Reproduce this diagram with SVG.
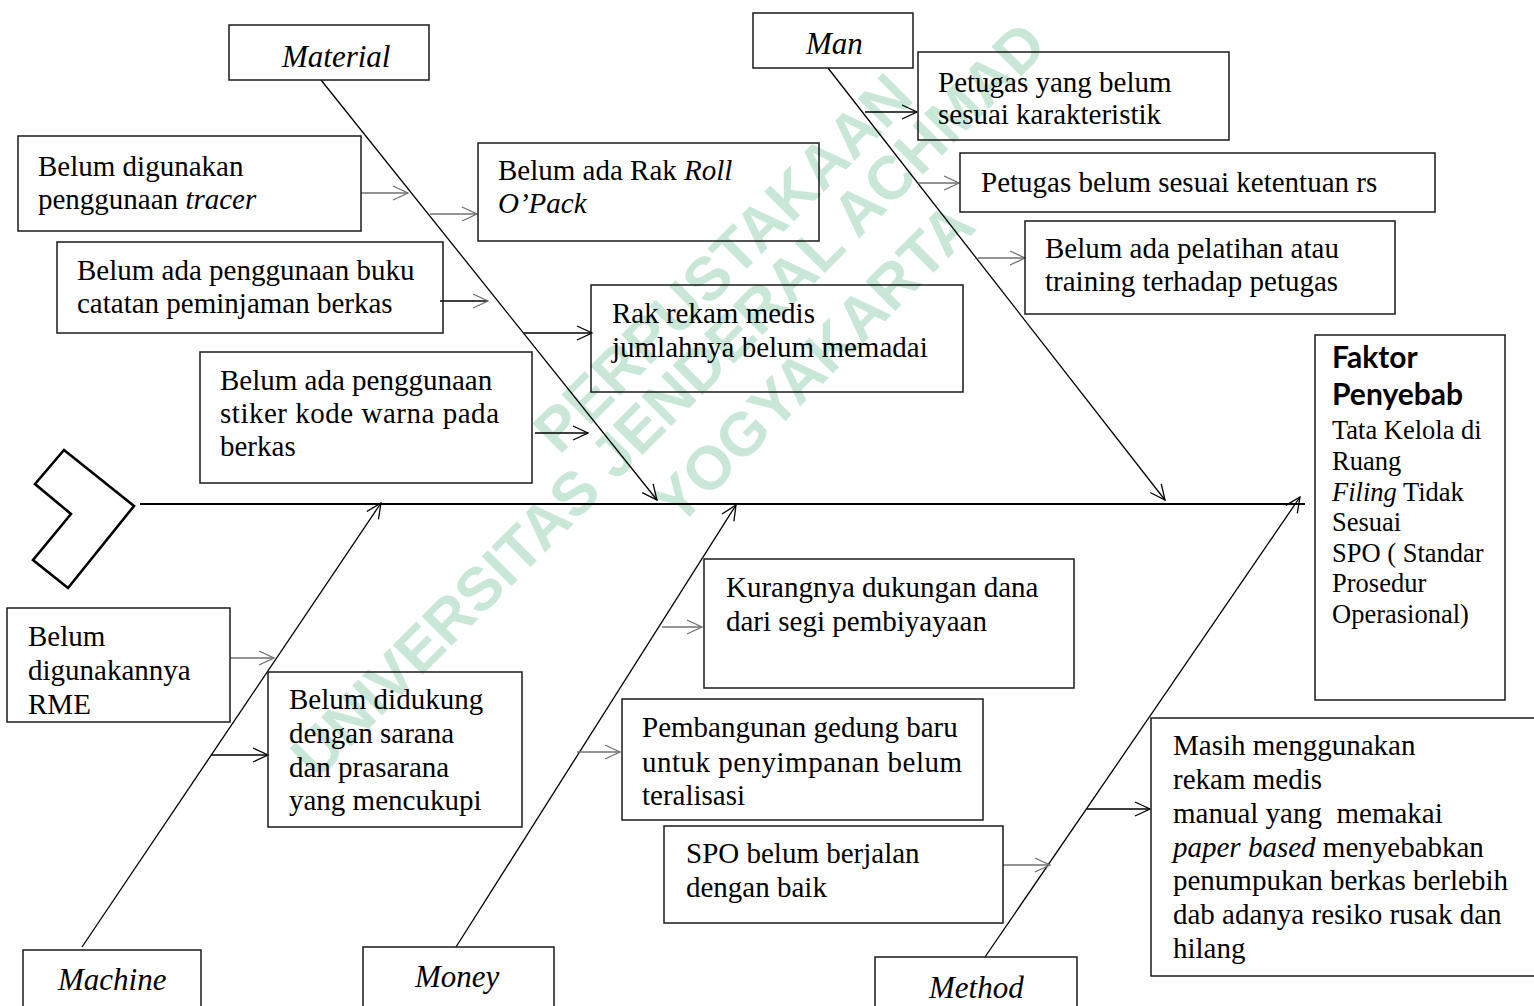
<svg xmlns="http://www.w3.org/2000/svg" width="1534" height="1006" viewBox="0 0 1534 1006">
<style>
.box{fill:none;stroke:#1a1a1a;stroke-width:1.5}
.t{font-family:"Liberation Serif","Times New Roman",serif;font-size:29px;fill:#000}
.lbl{font-family:"Liberation Serif","Times New Roman",serif;font-size:31px;font-style:italic;fill:#000}
.fs{font-family:"Liberation Serif","Times New Roman",serif;font-size:26.5px;fill:#000}
.fb{font-family:Lato,"Liberation Sans",sans-serif;font-size:30px;font-weight:bold;fill:#000}
.bone{stroke:#000;stroke-width:1.3;fill:none}
.ab{stroke:#000;stroke-width:1.5;fill:none}
.ag{stroke:#707070;stroke-width:1.6;fill:none}
.wm{font-family:"Liberation Sans",Arial,sans-serif;font-weight:bold;font-size:61px;fill:#c8e7d6;text-anchor:middle}
</style>
<defs>
<marker id="hb" markerUnits="userSpaceOnUse" markerWidth="18" markerHeight="18" refX="16" refY="8" orient="auto"><path d="M1,1 L16,8 L1,15" fill="none" stroke="#000" stroke-width="1.3"/></marker>
<marker id="hg" markerUnits="userSpaceOnUse" markerWidth="18" markerHeight="18" refX="16" refY="8" orient="auto"><path d="M1,1 L16,8 L1,15" fill="none" stroke="#707070" stroke-width="1.3"/></marker>
</defs>
<rect width="1534" height="1006" fill="#fff"/>
<g id="watermark" transform="rotate(-45)">
<text class="wm" x="325" y="718">PERPUSTAKAAN</text>
<text class="wm" x="190" y="776" font-size="63">UNIVERSITAS JENDERAL ACHMAD</text>
<text class="wm" x="318" y="853">YOGYAKARTA</text>
</g>
<g id="connectors">
<line x1="140" y1="504" x2="1305" y2="504" stroke="#000" stroke-width="2.2"/>
<line class="bone" x1="321" y1="80" x2="657" y2="500" marker-end="url(#hb)"/>
<line class="bone" x1="828" y1="68" x2="1165" y2="500" marker-end="url(#hb)"/>
<line class="bone" x1="82" y1="947" x2="381" y2="503" marker-end="url(#hb)"/>
<line class="bone" x1="456" y1="947" x2="736" y2="505" marker-end="url(#hb)"/>
<line class="bone" x1="985" y1="957" x2="1300" y2="497" marker-end="url(#hb)"/>
<line class="ag" x1="361" y1="193" x2="408" y2="193" marker-end="url(#hg)"/>
<line class="ag" x1="430" y1="214" x2="477" y2="214" marker-end="url(#hg)"/>
<line class="ab" x1="440" y1="301" x2="488" y2="301" marker-end="url(#hg)"/>
<line class="ab" x1="524" y1="333" x2="592" y2="333" marker-end="url(#hb)"/>
<line class="ab" x1="535" y1="433" x2="588" y2="433" marker-end="url(#hb)"/>
<line class="ab" x1="865" y1="112" x2="917" y2="112" marker-end="url(#hb)"/>
<line class="ag" x1="918" y1="183" x2="959" y2="183" marker-end="url(#hg)"/>
<line class="ag" x1="978" y1="258" x2="1025" y2="258" marker-end="url(#hg)"/>
<line class="ag" x1="230" y1="658" x2="274" y2="658" marker-end="url(#hg)"/>
<line class="ab" x1="211" y1="755" x2="268" y2="755" marker-end="url(#hb)"/>
<line class="ag" x1="662" y1="627" x2="702" y2="627" marker-end="url(#hg)"/>
<line class="ag" x1="577" y1="752" x2="620" y2="752" marker-end="url(#hg)"/>
<line class="ag" x1="1003" y1="865" x2="1050" y2="865" marker-end="url(#hg)"/>
<line class="ab" x1="1087" y1="809" x2="1150" y2="809" marker-end="url(#hb)"/>
</g>
<g id="head"><polygon points="64,450 134,506 68,588 33,560 71,514 35,484" fill="none" stroke="#000" stroke-width="2.6" stroke-linejoin="miter"/></g>
<g id="material"><rect class="box" x="229" y="25" width="200" height="55"/><text class="lbl" x="282" y="67">Material</text></g>
<g id="man"><rect class="box" x="753" y="13" width="160" height="55"/><text class="lbl" x="806" y="54">Man</text></g>
<g id="machine"><rect class="box" x="23" y="950" width="178" height="70"/><text class="lbl" x="58" y="990">Machine</text></g>
<g id="money"><rect class="box" x="363" y="947" width="191" height="70"/><text class="lbl" x="415" y="987">Money</text></g>
<g id="method"><rect class="box" x="875" y="957" width="202" height="70"/><text class="lbl" x="929" y="998">Method</text></g>
<g id="tracer"><rect class="box" x="18" y="136" width="343" height="95"/><text class="t" x="38" y="176">Belum digunakan</text><text class="t" x="38" y="209">penggunaan <tspan font-style="italic">tracer</tspan></text></g>
<g id="roll"><rect class="box" x="478" y="143" width="341" height="98"/><text class="t" x="498" y="180">Belum ada Rak <tspan font-style="italic">Roll</tspan></text><text class="t" x="498" y="213" font-style="italic">O’Pack</text></g>
<g id="buku"><rect class="box" x="57" y="242" width="386" height="91"/><text class="t" x="77" y="280">Belum ada penggunaan buku</text><text class="t" x="77" y="313">catatan peminjaman berkas</text></g>
<g id="rak"><rect class="box" x="591" y="285" width="372" height="107"/><text class="t" x="612" y="323">Rak rekam medis</text><text class="t" x="612" y="357">jumlahnya belum memadai</text></g>
<g id="stiker"><rect class="box" x="200" y="352" width="332" height="131"/><text class="t" x="220" y="390">Belum ada penggunaan</text><text class="t" x="220" y="423" textLength="279" lengthAdjust="spacing">stiker kode warna pada</text><text class="t" x="220" y="456">berkas</text></g>
<g id="petugas1"><rect class="box" x="918" y="52" width="311" height="88"/><text class="t" x="938" y="92">Petugas yang belum</text><text class="t" x="938" y="124">sesuai karakteristik</text></g>
<g id="petugas2"><rect class="box" x="960" y="153" width="475" height="59"/><text class="t" x="981" y="192">Petugas belum sesuai ketentuan rs</text></g>
<g id="pelatihan"><rect class="box" x="1025" y="221" width="370" height="93"/><text class="t" x="1045" y="258">Belum ada pelatihan atau</text><text class="t" x="1045" y="291">training terhadap petugas</text></g>
<g id="faktor"><rect class="box" x="1315" y="335" width="190" height="365"/>
<text class="fb" x="1332" y="368">Faktor</text><text class="fb" x="1332" y="405">Penyebab</text>
<text class="fs" x="1332" y="439">Tata Kelola di</text><text class="fs" x="1332" y="470">Ruang</text><text class="fs" x="1332" y="501"><tspan font-style="italic">Filing</tspan> Tidak</text><text class="fs" x="1332" y="531">Sesuai</text><text class="fs" x="1332" y="562">SPO ( Standar</text><text class="fs" x="1332" y="592">Prosedur</text><text class="fs" x="1332" y="623">Operasional)</text></g>
<g id="rme"><rect class="box" x="7" y="608" width="223" height="114"/><text class="t" x="28" y="646">Belum</text><text class="t" x="28" y="680">digunakannya</text><text class="t" x="28" y="714">RME</text></g>
<g id="didukung"><rect class="box" x="268" y="672" width="254" height="155"/><text class="t" x="289" y="709">Belum didukung</text><text class="t" x="289" y="743">dengan sarana</text><text class="t" x="289" y="777">dan prasarana</text><text class="t" x="289" y="810">yang mencukupi</text></g>
<g id="kurangnya"><rect class="box" x="704" y="559" width="370" height="129"/><text class="t" x="726" y="597">Kurangnya dukungan dana</text><text class="t" x="726" y="631">dari segi pembiyayaan</text></g>
<g id="pembangunan"><rect class="box" x="622" y="699" width="361" height="121"/><text class="t" x="642" y="737">Pembangunan gedung baru</text><text class="t" x="642" y="772" textLength="320" lengthAdjust="spacing">untuk penyimpanan belum</text><text class="t" x="642" y="805">teralisasi</text></g>
<g id="spo"><rect class="box" x="664" y="826" width="339" height="97"/><text class="t" x="686" y="863">SPO belum berjalan</text><text class="t" x="686" y="897">dengan baik</text></g>
<g id="masih"><rect class="box" x="1151" y="718" width="390" height="258" stroke="#333"/>
<text class="t" x="1173" y="755">Masih menggunakan</text><text class="t" x="1173" y="789">rekam medis</text><text class="t" x="1173" y="823">manual yang &#160;memakai</text><text class="t" x="1173" y="857"><tspan font-style="italic">paper based</tspan> menyebabkan</text><text class="t" x="1173" y="890">penumpukan berkas berlebih</text><text class="t" x="1173" y="924">dab adanya resiko rusak dan</text><text class="t" x="1173" y="958">hilang</text></g>
</svg>
